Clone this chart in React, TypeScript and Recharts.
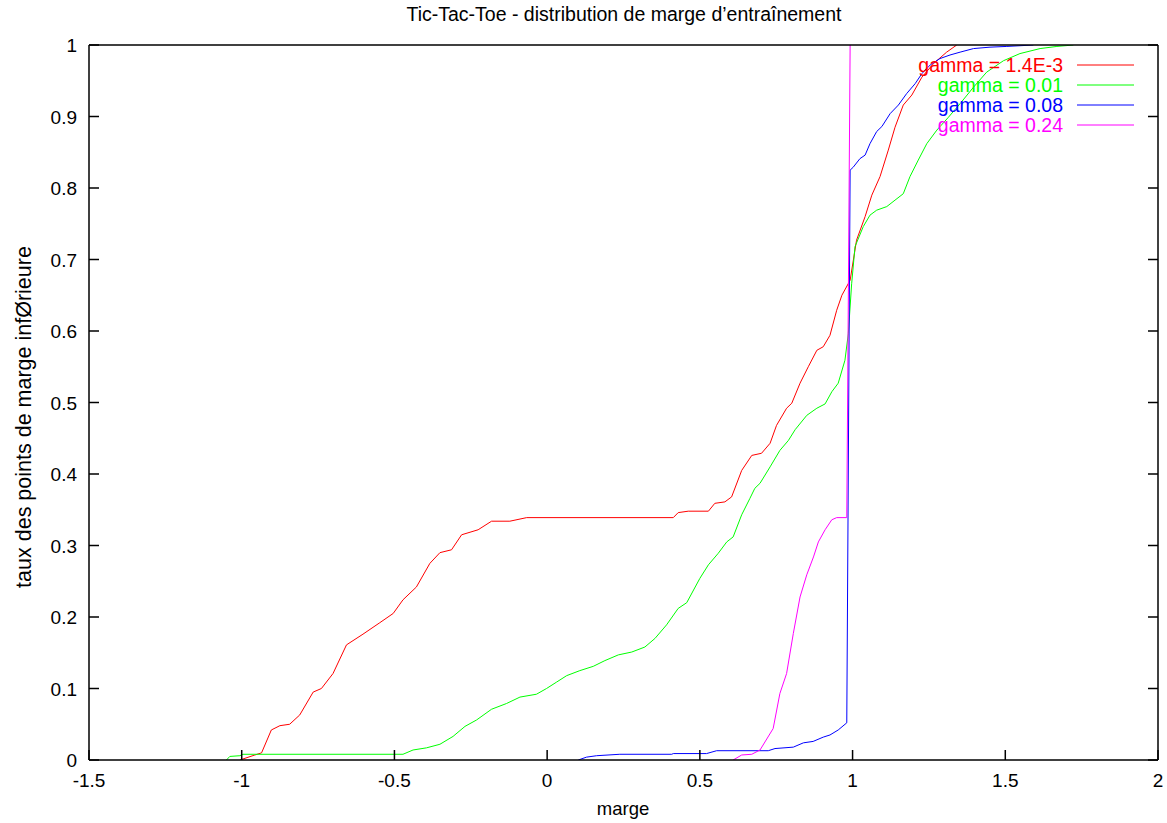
import React from 'react'
import { LineChart, Line, XAxis, YAxis } from 'recharts'

// axes
const xTicks = [-1.5, -1, -0.5, 0, 0.5, 1, 1.5, 2]
const yTicks = [0, 0.1, 0.2, 0.3, 0.4, 0.5, 0.6, 0.7, 0.8, 0.9, 1]

// [marge, taux]
const gammaA = [
  [-1.006, 0.0], [-0.957, 0.007], [-0.935, 0.010], [-0.903, 0.042], [-0.875, 0.048],
  [-0.843, 0.050], [-0.810, 0.063], [-0.766, 0.095], [-0.739, 0.100], [-0.701, 0.121],
  [-0.657, 0.161], [-0.603, 0.176], [-0.548, 0.192], [-0.504, 0.205], [-0.472, 0.224],
  [-0.428, 0.242], [-0.384, 0.275], [-0.351, 0.290], [-0.313, 0.294], [-0.280, 0.315],
  [-0.226, 0.322], [-0.182, 0.334], [-0.122, 0.334], [-0.067, 0.339], [0.413, 0.339],
  [0.429, 0.346], [0.462, 0.348], [0.528, 0.348], [0.549, 0.359], [0.582, 0.361],
  [0.604, 0.368], [0.637, 0.405], [0.670, 0.426], [0.702, 0.429], [0.730, 0.443],
  [0.751, 0.468], [0.784, 0.492], [0.801, 0.499], [0.828, 0.527], [0.855, 0.550],
  [0.883, 0.573], [0.904, 0.578], [0.926, 0.594], [0.948, 0.629], [0.965, 0.650],
  [0.992, 0.671], [1.013, 0.727], [1.041, 0.760], [1.063, 0.790], [1.090, 0.816],
  [1.117, 0.853], [1.139, 0.885], [1.166, 0.916], [1.194, 0.930], [1.227, 0.955],
  [1.265, 0.974], [1.308, 0.990], [1.341, 1.0],
]

const gammaB = [
  [-1.050, 0.0], [-1.039, 0.005], [-1.006, 0.006], [-0.996, 0.008], [-0.472, 0.008],
  [-0.439, 0.014], [-0.395, 0.017], [-0.351, 0.022], [-0.308, 0.033], [-0.269, 0.047],
  [-0.231, 0.056], [-0.182, 0.071], [-0.133, 0.079], [-0.089, 0.088], [-0.035, 0.092],
  [-0.002, 0.100], [0.031, 0.109], [0.064, 0.118], [0.107, 0.125], [0.151, 0.131],
  [0.189, 0.139], [0.233, 0.147], [0.277, 0.151], [0.320, 0.158], [0.353, 0.170],
  [0.391, 0.189], [0.429, 0.212], [0.457, 0.220], [0.500, 0.254], [0.528, 0.273],
  [0.560, 0.289], [0.588, 0.305], [0.609, 0.312], [0.637, 0.343], [0.664, 0.366],
  [0.680, 0.380], [0.697, 0.387], [0.730, 0.410], [0.762, 0.433], [0.790, 0.447],
  [0.812, 0.462], [0.850, 0.482], [0.883, 0.492], [0.910, 0.498], [0.932, 0.515],
  [0.953, 0.527], [0.975, 0.559], [0.986, 0.596], [0.997, 0.666], [1.008, 0.718],
  [1.035, 0.746], [1.057, 0.762], [1.079, 0.769], [1.112, 0.774], [1.139, 0.783],
  [1.166, 0.792], [1.188, 0.816], [1.215, 0.839], [1.243, 0.862], [1.276, 0.881],
  [1.314, 0.899], [1.352, 0.918], [1.396, 0.941], [1.439, 0.962], [1.494, 0.978],
  [1.548, 0.988], [1.614, 0.995], [1.669, 0.998], [1.723, 1.0],
]

const gammaC = [
  [0.102, 0.0], [0.129, 0.004], [0.162, 0.006], [0.238, 0.008], [0.408, 0.008],
  [0.413, 0.009], [0.522, 0.009], [0.555, 0.013], [0.724, 0.013], [0.746, 0.016],
  [0.806, 0.018], [0.839, 0.024], [0.871, 0.026], [0.904, 0.032], [0.926, 0.035],
  [0.953, 0.042], [0.981, 0.052], [0.992, 0.825], [1.002, 0.829], [1.024, 0.841],
  [1.041, 0.846], [1.057, 0.862], [1.079, 0.879], [1.096, 0.886], [1.123, 0.904],
  [1.150, 0.916], [1.177, 0.932], [1.205, 0.946], [1.227, 0.960], [1.254, 0.972],
  [1.286, 0.981], [1.319, 0.986], [1.352, 0.990], [1.396, 0.995], [1.450, 0.997],
  [1.505, 0.998], [1.592, 1.0],
]

const gammaD = [
  [0.609, 0.0], [0.637, 0.007], [0.670, 0.008], [0.697, 0.014], [0.740, 0.044],
  [0.762, 0.093], [0.784, 0.121], [0.806, 0.177], [0.828, 0.228], [0.850, 0.259],
  [0.872, 0.284], [0.888, 0.305], [0.910, 0.322], [0.932, 0.336], [0.948, 0.339],
  [0.981, 0.339], [0.992, 1.0],
]

const series = [
  { name: 'gamma = 1.4E-3', color: '#ff0000', points: gammaA },
  { name: 'gamma = 0.01', color: '#00ff00', points: gammaB },
  { name: 'gamma = 0.08', color: '#0000ff', points: gammaC },
  { name: 'gamma = 0.24', color: '#ff00ff', points: gammaD },
]

const FONT = '"Liberation Sans", Arial, Helvetica, sans-serif'
const TICK = 10
const FS = 19

const BottomTick = ({ x, y, payload }: any) => (
  <g>
    <line x1={x} y1={y} x2={x} y2={y - TICK} stroke="#000" strokeWidth={1.5} />
    <text x={x} y={y + 27} textAnchor="middle" fontFamily={FONT} fontSize={FS} fill="#000">
      {payload.value}
    </text>
  </g>
)

const TopTick = ({ x, y }: any) => (
  <line x1={x} y1={y} x2={x} y2={y + TICK} stroke="#000" strokeWidth={1.5} />
)

const LeftTick = ({ x, y, payload }: any) => (
  <g>
    <line x1={x} y1={y} x2={x + TICK} y2={y} stroke="#000" strokeWidth={1.5} />
    <text x={x - 12} y={y + 7} textAnchor="end" fontFamily={FONT} fontSize={FS} fill="#000">
      {payload.value}
    </text>
  </g>
)

const RightTick = ({ x, y }: any) => (
  <line x1={x} y1={y} x2={x - TICK} y2={y} stroke="#000" strokeWidth={1.5} />
)

const axisLine = { stroke: '#000', strokeWidth: 1.5 }

export default function App() {
  return (
    <div style={{ position: 'absolute', left: 0, top: 0, width: 1167, height: 823, background: '#fff' }}>
      <LineChart width={1167} height={823} margin={{ top: 40, right: 4, bottom: 23, left: 29 }}>
        <XAxis
          xAxisId="bottom" dataKey="x" type="number" domain={[-1.5, 2]} ticks={xTicks}
          allowDataOverflow height={40} tickSize={0} tickMargin={0} tickLine={false}
          axisLine={axisLine} tick={<BottomTick />} interval={0}
        />
        <XAxis
          xAxisId="top" orientation="top" type="number" domain={[-1.5, 2]} ticks={xTicks}
          allowDataOverflow height={5} tickSize={0} tickMargin={0} tickLine={false}
          axisLine={axisLine} tick={<TopTick />} interval={0}
        />
        <YAxis
          yAxisId="left" type="number" domain={[0, 1]} ticks={yTicks}
          allowDataOverflow width={60} tickSize={0} tickMargin={0} tickLine={false}
          axisLine={axisLine} tick={<LeftTick />} interval={0}
        />
        <YAxis
          yAxisId="right" orientation="right" type="number" domain={[0, 1]} ticks={yTicks}
          allowDataOverflow width={5} tickSize={0} tickMargin={0} tickLine={false}
          axisLine={axisLine} tick={<RightTick />} interval={0}
        />
        {series.map(s => (
          <Line
            key={s.name}
            xAxisId="bottom" yAxisId="left"
            data={s.points.map(([x, y]) => ({ x, y }))}
            dataKey="y" name={s.name}
            type="linear" stroke={s.color} strokeWidth={1}
            dot={false} activeDot={false} isAnimationActive={false}
          />
        ))}
      </LineChart>
      <svg
        width={1167} height={823}
        style={{ position: 'absolute', left: 0, top: 0, pointerEvents: 'none' }}
        fontFamily={FONT}
      >
        <text x={624} y={21} textAnchor="middle" fontSize={19.5} fill="#000">
          Tic-Tac-Toe - distribution de marge d’entraînement
        </text>
        <text x={623} y={815} textAnchor="middle" fontSize={18.5} fill="#000">marge</text>
        <text
          x={31} y={417} textAnchor="middle" fontSize={21.5} fill="#000"
          transform="rotate(-90 31 417)"
        >
          taux des points de marge infØrieure
        </text>
        {series.map((s, i) => (
          <g key={s.name}>
            <text x={1063} y={72 + i * 20} textAnchor="end" fontSize={19.5} fill={s.color}>
              {s.name}
            </text>
            <line x1={1077} x2={1134} y1={65 + i * 20} y2={65 + i * 20} stroke={s.color} strokeWidth={1} />
          </g>
        ))}
      </svg>
    </div>
  )
}
